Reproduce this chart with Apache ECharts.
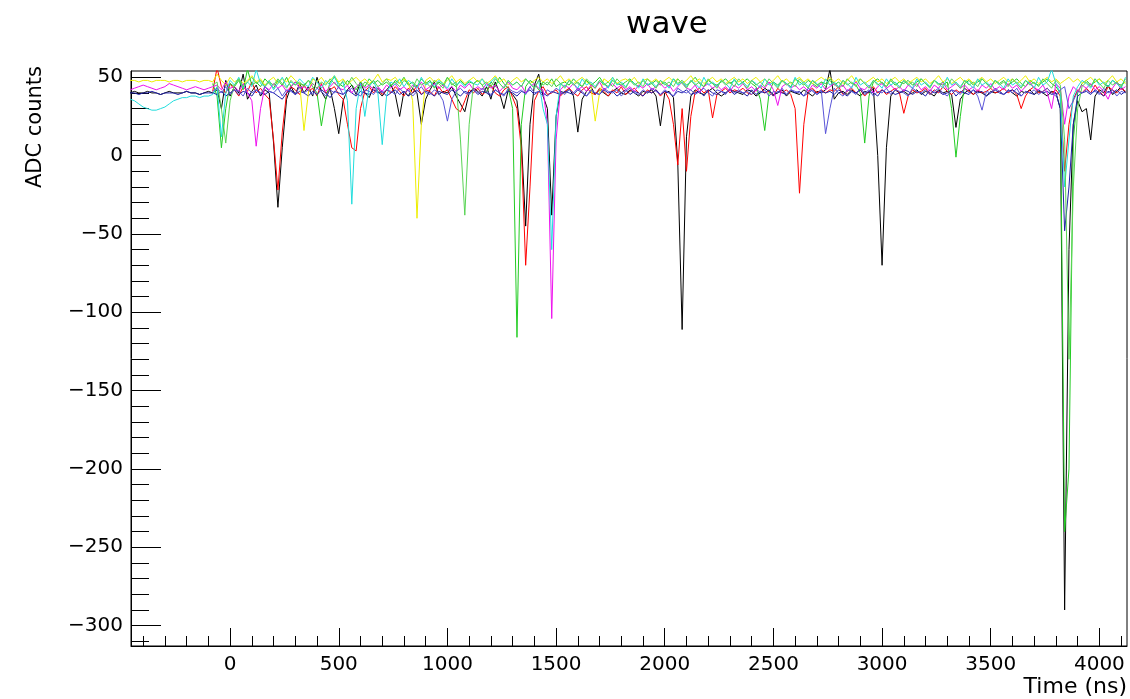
<!DOCTYPE html>
<html>
<head>
<meta charset="utf-8">
<script src="https://cdn.jsdelivr.net/npm/echarts@6/dist/echarts.min.js"></script>
<style>html,body{margin:0;padding:0;background:#fff}#c{width:1130px;height:699px}</style>
</head>
<body>
<div id="c"></div>
<script>
// ---- sampling grid of the waveforms (ns) ----
const T0 = -460, DT = 20;
const N = null;

// ---- tick values ----
const xMajor = [0,500,1000,1500,2000,2500,3000,3500,4000];
const xMinor = [-400,-300,-200,-100,0,100,200,300,400,500,600,700,800,900,1000,1100,1200,1300,1400,1500,1600,1700,1800,1900,2000,2100,2200,2300,2400,2500,2600,2700,2800,2900,3000,3100,3200,3300,3400,3500,3600,3700,3800,3900,4000,4100];
const yMajor = [-300,-250,-200,-150,-100,-50,0,50];
const yMinor = [-310,-300,-290,-280,-270,-260,-250,-240,-230,-220,-210,-200,-190,-180,-170,-160,-150,-140,-130,-120,-110,-100,-90,-80,-70,-60,-50,-40,-30,-20,-10,0,10,20,30,40,50];

// ---- waveforms (ADC counts), one value per sample ----
const wBlack = [
40,41,40,40,41,40,40,39,40,41,40,40,40,41,40,40,39,40,41,40,
42,30,48,38,44,40,52,36,41,45,38,42,40,8,-33,5,36,44,39,46,
40,44,38,50,41,36,43,30,14,35,42,45,39,47,40,37,44,41,38,42,
45,39,25,41,38,43,40,20,36,42,47,39,41,40,44,38,33,28,40,43,
41,38,44,36,47,40,30,42,39,35,10,-45,20,45,52,38,30,-38,25,41,
40,43,38,15,36,41,44,39,42,40,38,41,43,40,39,42,40,38,41,40,
42,38,19,40,41,37,-5,-111,12,38,42,40,39,41,43,40,38,40,42,41,
40,39,42,41,38,40,43,41,39,40,42,38,41,40,39,42,40,38,41,40,
42,55,36,40,41,39,42,40,38,41,40,43,0,-70,5,38,42,40,41,39,
40,42,39,41,40,38,42,40,41,39,18,36,40,42,39,41,40,38,41,40,
41,39,42,40,38,41,40,42,39,41,40,38,41,40,30,-290,-60,20,35,28,
30,10,38,42,40,45,39,41,44,40];
const wRed = [
N,N,N,N,N,N,N,N,N,N,N,N,N,N,N,N,N,N,N,41,
56,44,40,46,42,38,44,41,47,40,43,39,36,10,-22,15,40,44,42,39,
45,41,43,38,46,40,42,44,39,36,20,5,3,30,41,44,40,43,39,42,
40,44,41,38,43,40,45,39,42,41,38,44,40,42,36,30,28,35,42,40,
43,39,41,45,40,38,42,44,37,30,5,-70,-20,35,41,44,39,40,42,38,
41,43,40,38,42,44,40,39,43,41,38,42,40,44,39,41,43,40,38,42,
40,42,38,41,36,20,-6,30,-10,25,41,43,40,42,24,39,41,43,40,42,
41,43,40,39,42,44,40,41,38,43,40,42,39,30,-24,20,41,43,40,42,
40,42,41,44,39,41,43,40,42,38,41,44,40,42,39,41,43,40,27,38,
42,40,41,43,39,42,40,44,41,39,42,40,43,41,39,42,40,41,43,40,
41,43,40,42,39,30,38,42,44,40,41,43,40,42,38,-10,20,36,42,40,
43,40,45,41,38,44,42,40,43,41];
const wGreen = [
N,N,N,N,N,N,N,N,N,N,N,N,N,N,N,N,N,N,N,46,
38,5,30,46,44,48,42,55,45,47,44,49,46,43,48,45,50,44,47,46,
45,48,44,40,19,36,47,50,46,44,48,45,42,47,44,49,46,48,45,47,
44,48,46,50,45,47,44,49,46,48,43,47,45,50,46,44,48,45,47,46,
48,45,40,47,44,50,46,43,30,-116,20,44,48,46,42,47,45,49,44,46,
47,45,49,46,44,48,45,47,50,46,44,48,46,45,47,49,46,44,48,45,
46,48,45,47,44,49,46,48,45,47,50,46,44,48,46,45,47,49,46,48,
45,47,49,46,44,36,16,40,47,45,48,46,44,49,47,45,48,46,44,47,
46,48,45,47,44,49,46,45,40,8,38,47,49,46,44,48,45,47,46,48,
45,47,49,46,44,48,46,45,47,30,-1,25,46,48,45,47,49,46,44,48,
46,48,45,47,49,46,44,48,46,45,47,49,46,44,40,-240,-200,10,40,46,
48,45,47,49,46,44,48,46,45,47];
const wBlue = [
40,40,39,40,40,41,40,39,40,40,40,39,40,41,40,40,39,40,40,40,
39,41,38,40,42,39,41,40,38,42,40,39,41,40,38,36,40,42,39,41,
40,38,41,39,42,40,37,41,40,39,42,40,38,41,40,39,42,40,41,38,
40,42,39,41,38,40,42,39,41,40,38,41,40,39,42,40,38,41,40,42,
39,41,40,38,42,40,39,41,40,38,41,40,42,39,41,40,38,41,40,39,
41,40,39,42,40,38,41,40,39,42,40,41,38,40,42,39,41,40,38,41,
40,42,39,41,40,38,41,40,42,39,40,41,38,42,40,39,41,40,42,39,
41,40,38,42,39,41,40,42,38,41,40,39,42,40,41,38,40,42,39,41,
40,41,39,42,40,38,41,40,42,39,41,40,38,42,40,41,39,40,42,41,
39,41,40,38,42,40,41,39,40,42,38,41,40,39,42,40,41,38,40,42,
40,39,41,42,40,38,41,40,39,42,40,41,39,40,30,-48,-20,20,38,40,
41,39,42,40,38,41,40,42,39,41];
const wYellow = [
48,48,47,48,48,47,48,48,48,47,48,48,47,48,48,48,47,48,48,47,
52,48,45,50,47,49,46,48,51,47,49,45,48,50,46,49,47,51,48,46,
16,40,49,47,50,46,48,51,47,49,45,48,50,47,49,46,48,52,47,49,
48,50,46,49,47,35,-40,20,48,50,47,49,46,48,51,47,49,46,48,50,
47,49,46,48,51,47,49,45,48,50,47,49,46,48,50,47,49,46,48,51,
47,49,46,48,50,47,45,22,40,49,47,50,46,48,49,47,50,46,48,49,
47,49,46,48,50,47,49,46,48,51,47,49,46,48,50,47,49,46,48,50,
47,49,46,48,50,47,49,46,48,51,47,49,46,48,50,47,49,46,48,50,
48,50,47,49,46,48,51,47,49,46,48,50,47,49,46,48,50,47,49,46,
48,50,47,49,46,48,51,47,49,46,48,50,47,49,46,48,50,47,49,46,
48,50,47,49,46,48,51,47,49,46,48,50,47,49,46,48,50,47,49,46,
48,50,47,49,46,48,51,47,49,46];
const wMagenta = [
42,43,44,45,44,43,42,43,44,46,45,44,43,42,43,44,43,42,43,44,
45,42,47,43,44,41,46,40,35,6,30,44,42,46,43,45,41,44,47,43,
44,42,46,43,45,41,44,47,43,42,45,40,44,46,43,45,42,44,41,45,
43,46,42,44,41,45,43,47,42,44,46,43,45,42,44,41,45,43,46,42,
44,42,46,43,45,41,44,47,43,42,45,40,44,46,43,42,20,-104,10,42,
45,43,46,42,44,41,45,43,47,42,44,46,43,45,42,44,41,45,43,46,
42,44,46,43,45,41,44,47,43,42,45,40,44,46,43,45,42,44,41,45,
43,46,42,44,41,45,43,47,42,32,44,46,43,45,42,44,41,45,43,46,
42,44,46,43,45,41,44,47,43,42,45,40,44,46,43,45,42,44,41,45,
43,46,42,44,41,45,43,47,42,44,46,43,45,42,44,41,45,43,46,42,
44,42,46,43,45,41,44,47,43,42,45,40,30,46,43,20,38,44,41,45,
43,46,42,44,41,36,43,47,42,44];
const wCyan = [
36,35,33,31,30,29,29,30,31,33,35,36,37,37,38,38,37,38,38,39,
44,12,40,48,45,50,43,47,44,55,46,44,48,42,46,50,44,47,45,49,
46,44,50,47,43,48,45,51,44,47,35,-31,30,46,25,44,48,40,7,38,
47,45,49,44,48,46,43,50,45,47,44,48,46,43,49,45,47,44,48,46,
45,49,44,47,50,46,43,48,45,47,44,49,46,43,48,30,20,-60,25,46,
44,48,46,43,49,45,47,44,48,46,43,50,45,47,44,48,46,43,49,45,
47,44,48,46,43,49,45,47,44,48,46,43,50,45,47,44,48,46,43,49,
45,47,44,48,46,43,49,45,47,44,48,46,43,50,45,47,44,48,46,43,
49,45,47,44,48,46,43,50,45,47,44,48,46,43,49,45,47,44,48,46,
43,49,45,47,44,48,46,43,50,45,47,44,48,46,43,49,45,47,44,48,
46,43,49,45,47,44,48,46,43,50,45,47,55,46,40,-20,10,38,44,48,
46,43,49,45,47,44,48,46,43,50];
const wGreen2 = [
N,N,N,N,N,N,N,N,N,N,N,N,N,N,N,N,N,N,N,45,
47,30,8,35,45,49,44,47,50,46,48,44,47,45,49,46,43,48,45,47,
44,48,46,43,47,45,49,46,44,48,45,50,46,43,47,45,48,44,46,49,
45,47,44,48,46,43,49,45,47,44,48,46,43,50,45,47,10,-38,20,46,
48,45,47,44,49,46,43,48,45,47,44,49,46,43,48,45,47,44,49,46,
43,48,45,47,44,49,46,43,48,45,47,44,49,46,43,48,45,47,44,49,
46,43,48,45,47,44,49,46,43,48,45,47,44,49,46,43,48,45,47,44,
49,46,43,48,45,47,44,49,46,43,48,45,47,44,49,46,43,48,45,47,
44,49,46,43,48,45,47,44,49,46,43,48,45,47,44,49,46,43,48,45,
47,44,49,46,43,48,45,47,44,49,46,43,48,45,47,44,49,46,43,48,
45,47,44,49,46,43,48,45,47,44,49,46,43,48,45,10,-130,-20,30,44,
47,44,49,46,43,48,45,47,44,49];
const wPurple = [
N,N,N,N,N,N,N,N,N,N,N,N,N,N,N,N,N,N,N,41,
43,40,44,39,42,41,38,43,40,42,39,44,41,40,43,38,42,41,39,44,
40,42,39,43,41,38,42,40,44,39,41,43,40,38,42,41,39,43,40,42,
41,39,43,40,42,38,41,44,40,39,42,40,35,22,36,41,43,40,39,42,
40,43,41,39,42,40,38,43,41,40,42,39,44,40,41,38,42,40,43,41,
39,42,40,43,41,38,42,40,39,43,41,40,42,38,41,43,40,39,42,40,
43,41,39,42,40,38,43,41,40,42,39,41,43,40,38,42,41,39,43,40,
42,40,41,39,43,40,42,38,41,40,43,39,42,41,40,38,43,41,39,42,
14,30,43,40,38,42,41,39,43,40,42,38,41,40,43,39,42,41,40,38,
43,41,40,42,39,41,43,40,38,42,41,39,43,40,42,38,29,41,40,43,
41,39,42,40,43,38,41,40,42,39,41,43,40,38,42,44,30,35,41,40,
42,40,41,39,43,40,42,38,41,40];

const traces = [
  {name:'w1', data:wBlack,   color:'#000000'},
  {name:'w2', data:wRed,     color:'#ff0000'},
  {name:'w3', data:wGreen,   color:'#22cc22'},
  {name:'w4', data:wBlue,    color:'#1f1fa8'},
  {name:'w5', data:wYellow,  color:'#eeee00'},
  {name:'w6', data:wMagenta, color:'#ee11ee'},
  {name:'w7', data:wCyan,    color:'#22dddd'},
  {name:'w8', data:wGreen2,  color:'#59d454'},
  {name:'w9', data:wPurple,  color:'#5954d8'}
];

function pairs(vals){
  const out = [];
  for (let i = 0; i < vals.length; i++) {
    if (vals[i] !== null) out.push([T0 + i*DT, vals[i]]);
  }
  return out;
}

const FONT = 'DejaVu Sans';
const minus = v => String(v).replace('-', '\u2212');
const XMIN = -456, XMAX = 4127, YMIN = -313, YMAX = 54;

const chart = echarts.init(document.getElementById('c'), null, {renderer:'canvas'});
chart.setOption({
  animation: false,
  backgroundColor: '#ffffff',
  title: {
    text: 'wave', left: 662, top: 4, textAlign: 'center',
    textStyle: {fontFamily: FONT, fontSize: 31, fontWeight: 'normal', color: '#000'}
  },
  graphic: [{
    type: 'text', x: 36, y: 66, rotation: Math.PI/2,
    style: {text: 'ADC counts', fontFamily: FONT, fontSize: 21, fill: '#000',
            textAlign: 'right', textVerticalAlign: 'middle'}
  }],
  grid: {left: 131, top: 71, width: 996, height: 575, show: true,
         borderColor: '#000', borderWidth: 1, backgroundColor: 'transparent'},
  xAxis: [
    {type:'value', min:XMIN, max:XMAX, position:'bottom',
     name: 'Time (ns)', nameLocation: 'end', nameGap: 0,
     nameTextStyle: {fontFamily: FONT, fontSize: 22, color:'#000', align:'right', verticalAlign:'top', padding:[30,0,0,0]},
     axisLine:{show:true, onZero:false, lineStyle:{color:'#000', width:1}},
     axisTick:{show:true, inside:true, length:18, customValues:xMajor, lineStyle:{color:'#000'}},
     axisLabel:{show:true, customValues:xMajor, margin:9, fontFamily:FONT, fontSize:20, color:'#000', formatter:minus},
     splitLine:{show:false}},
    {type:'value', min:XMIN, max:XMAX, position:'bottom',
     axisLine:{show:false, onZero:false}, axisLabel:{show:false}, splitLine:{show:false},
     axisTick:{show:true, inside:true, length:10, customValues:xMinor, lineStyle:{color:'#000'}}}
  ],
  yAxis: [
    {type:'value', min:YMIN, max:YMAX, position:'left',
     axisLine:{show:true, onZero:false, lineStyle:{color:'#000', width:1}},
     axisTick:{show:true, inside:true, length:30, customValues:yMajor, lineStyle:{color:'#000'}},
     axisLabel:{show:true, customValues:yMajor, margin:8, fontFamily:FONT, fontSize:20, color:'#000', formatter:minus},
     splitLine:{show:false}},
    {type:'value', min:YMIN, max:YMAX, position:'left',
     axisLine:{show:false, onZero:false}, axisLabel:{show:false}, splitLine:{show:false},
     axisTick:{show:true, inside:true, length:18, customValues:yMinor, lineStyle:{color:'#000'}}}
  ],
  series: traces.map(t => ({
    type:'line', name:t.name, data:pairs(t.data), xAxisIndex:0, yAxisIndex:0,
    showSymbol:false, symbol:'none', clip:true, connectNulls:false,
    lineStyle:{color:t.color, width:1}, itemStyle:{color:t.color},
    emphasis:{disabled:true}, silent:true
  }))
});
</script>
</body>
</html>
